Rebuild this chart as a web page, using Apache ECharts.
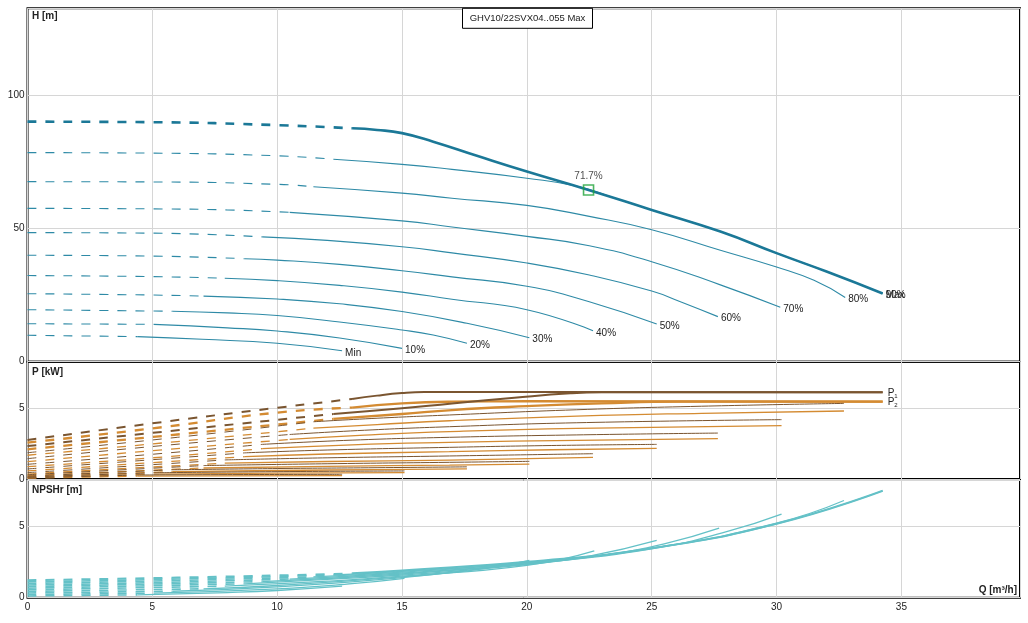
<!DOCTYPE html>
<html><head><meta charset="utf-8">
<script src="https://cdn.jsdelivr.net/npm/echarts@6/dist/echarts.min.js"></script>
<style>html,body{margin:0;padding:0;background:#fff}#c{width:1028px;height:623px}</style>
</head><body><div id="c"></div>
<script>
// ---------- DATA ----------
const curveNames = ['Max','90%','80%','70%','60%','50%','40%','30%','20%','10%','Min'];
const xTicks = [0,5,10,15,20,25,30,35];
const hTicks = [0,50,100];
const pTicks = [0,5];
const nTicks = [0,5];
const titleText = 'GHV10/22SVX04..055 Max';
const bepPoint = [22.47, 64.4];
const bepLabel = '71.7%';

// Head curves: dashed part (0 .. start) and solid part (start .. end)
const hDash = [
  [[0,90],[5,89.8],[10,88.7],[13,87.5]],
  [[0,78.4],[5,78.2],[10,77.2],[12.25,75.9]],
  [[0,67.5],[5,67.4],[10,66.5],[11.45,65.6]],
  [[0,57.5],[5,57.3],[8,56.9],[10.5,56.0]],
  [[0,48.4],[5,48.2],[9.4,46.8]],
  [[0,39.9],[5,39.6],[8.7,38.6]],
  [[0,32.3],[5,31.9],[7.9,31.3]],
  [[0,25.5],[5,25.0],[7.05,24.6]],
  [[0,19.5],[5,19.0],[5.8,18.9]],
  [[0,14.25],[5.05,14.0]],
  [[0,9.9],[4.4,9.4]]
];
const hSolid = [
  [[13,87.5],[14,86.9],[15,85.7],[16.25,82.5],[18,77.2],[20,71.3],[22.47,64.4],[25,56.9],[27.75,48.8],[30,40.7],[32,33.8],[34.25,25.6]],
  [[12.25,75.9],[15,74.0],[17,72.1],[20,68.8],[22.1,65.6],[23.5,61.4],[25,56.9],[27.75,48.8],[30,40.7],[32,33.8],[34.25,25.6]],
  [[11.45,65.6],[15,63.2],[17,61.3],[20,58.6],[22.5,54.5],[25,49.5],[27.75,41.8],[30,35.5],[31.5,30.5],[32.75,24.1]],
  [[10.5,56.0],[15,52.8],[17,50.5],[20,47.0],[22.5,43.5],[25,37.5],[27.75,28.8],[30.15,20.4]],
  [[9.4,46.8],[12,45.5],[15,43.1],[17,40.8],[20,37.0],[22.5,32.5],[25,26.5],[26.15,22.5],[27.65,16.9]],
  [[8.7,38.6],[10,38.1],[12.5,36.5],[15,34.1],[17,31.8],[20,28.3],[22.5,22.5],[25.2,14.1]],
  [[7.9,31.3],[10,30.4],[12.5,28.6],[15,26.1],[17,23.4],[20,19.5],[22.65,11.6]],
  [[7.05,24.6],[10,23.5],[12.5,21.7],[15,18.8],[17.6,14.4],[20.1,9.0]],
  [[5.8,18.9],[8,18.3],[10,17.3],[12.5,14.9],[15,11.9],[16.25,10.0],[17.6,6.9]],
  [[5.05,14.0],[8,12.7],[10,11.5],[12.5,8.9],[15,5.0]],
  [[4.4,9.4],[7,8.4],[10,6.9],[12.6,4.1]]
];

// Power P1 (shaft) curves
const p1Dash = [
  [[0,2.76],[5,3.94],[10,5.04],[13,5.66]],
  [[0,2.33],[6,3.45],[12.25,4.6]],
  [[0,1.86],[6,2.95],[11.45,4.05]],
  [[0,1.44],[5,2.3],[10.5,3.15]],
  [[0,1.04],[5,1.75],[9.4,2.45]],
  [[0,0.71],[4.5,1.3],[8.7,1.85]],
  [[0,0.45],[4,0.9],[7.9,1.35]],
  [[0,0.3],[7.05,0.95]],
  [[0,0.2],[5.8,0.65]],
  [[0,0.14],[5.05,0.44]],
  [[0,0.08],[4.4,0.28]]
];
const p1Solid = [
  [[13,5.66],[14,5.9],[15,6.08],[15.9,6.15],[20,6.15],[34.25,6.13]],
  [[12.25,4.6],[15,5.0],[17,5.35],[19.5,5.75],[21.75,6.06],[23,6.13],[34.25,6.13]],
  [[11.45,4.05],[14,4.3],[16.9,4.53],[22,4.9],[27,5.15],[32.7,5.35]],
  [[10.5,3.15],[13.5,3.45],[16.9,3.7],[22,3.98],[30.2,4.2]],
  [[9.4,2.45],[13,2.75],[16.9,2.95],[22,3.12],[27.65,3.25]],
  [[8.7,1.85],[12,2.05],[16.9,2.24],[21,2.37],[25.2,2.45]],
  [[7.9,1.35],[12,1.5],[16.9,1.63],[22.65,1.79]],
  [[7.05,0.95],[12,1.08],[16.9,1.18],[20.1,1.25]],
  [[5.8,0.65],[10,0.74],[14,0.8],[17.6,0.86]],
  [[5.05,0.44],[10,0.52],[15.1,0.57]],
  [[4.4,0.28],[8,0.31],[12.6,0.33]]
];
// Power P2 (hydraulic) curves
const p2Dash = [
  [[0,2.57],[5,3.58],[10,4.7],[13,5.05]],
  [[0,2.1],[6,3.15],[12.25,4.25]],
  [[0,1.68],[6,2.65],[11.45,3.6]],
  [[0,1.23],[5,2.0],[10.5,2.8]],
  [[0,0.87],[5,1.5],[9.4,2.15]],
  [[0,0.57],[4.5,1.1],[8.7,1.58]],
  [[0,0.35],[4,0.75],[7.9,1.12]],
  [[0,0.24],[7.05,0.78]],
  [[0,0.15],[5.8,0.52]],
  [[0,0.1],[5.05,0.34]],
  [[0,0.06],[4.4,0.2]]
];
const p2Solid = [
  [[13,5.05],[15,5.35],[17,5.47],[20,5.5],[34.25,5.47]],
  [[12.25,4.25],[15,4.6],[17,4.88],[20,5.15],[23,5.35],[26.2,5.47],[34.25,5.47]],
  [[11.45,3.6],[14,3.85],[16.9,4.12],[22,4.45],[27,4.65],[32.7,4.81]],
  [[10.5,2.8],[13.5,3.1],[16.9,3.35],[22,3.58],[30.2,3.77]],
  [[9.4,2.15],[13,2.42],[16.9,2.59],[22,2.74],[27.65,2.85]],
  [[8.7,1.58],[12,1.77],[16.9,1.93],[21,2.07],[25.2,2.17]],
  [[7.9,1.12],[12,1.24],[16.9,1.34],[22.65,1.53]],
  [[7.05,0.78],[12,0.9],[16.9,0.98],[20.1,1.05]],
  [[5.8,0.52],[10,0.6],[14,0.67],[17.6,0.72]],
  [[5.05,0.34],[10,0.41],[15.1,0.45]],
  [[4.4,0.2],[8,0.22],[12.6,0.24]]
];

// NPSHr curves
const nDash = [
  [[0,1.22],[6,1.4],[13,1.68]],
  [[0,1.1],[6,1.3],[12.25,1.58]],
  [[0,0.99],[6,1.2],[11.45,1.45]],
  [[0,0.88],[5,1.05],[10.5,1.3]],
  [[0,0.77],[5,0.95],[9.4,1.12]],
  [[0,0.66],[4.5,0.82],[8.7,0.97]],
  [[0,0.55],[4,0.68],[7.9,0.8]],
  [[0,0.44],[7.05,0.62]],
  [[0,0.33],[5.8,0.45]],
  [[0,0.22],[5.05,0.32]],
  [[0,0.12],[4.4,0.2]]
];
const nSolid = [
  [[13,1.7],[15,1.9],[20,2.5],[25,3.45],[30,5.15],[34.25,7.45]],
  [[12.25,1.58],[15,1.84],[20,2.45],[25,3.45],[30,5.15],[34.25,7.45]],
  [[11.45,1.45],[15,1.78],[20,2.42],[25,3.45],[30,5.2],[32.7,6.77]],
  [[10.5,1.3],[15,1.72],[20,2.38],[25,3.4],[28,4.6],[30.2,5.82]],
  [[9.4,1.12],[15,1.65],[20,2.35],[23,2.95],[25.5,3.75],[27.7,4.84]],
  [[8.7,0.97],[12,1.28],[15,1.58],[20,2.3],[22.5,2.9],[25.2,4.0]],
  [[7.9,0.8],[12,1.15],[15,1.5],[20,2.25],[22.7,3.26]],
  [[7.05,0.62],[10,0.85],[15,1.45],[18,1.95],[20.1,2.6]],
  [[5.8,0.45],[10,0.75],[15,1.4],[17.6,1.9]],
  [[5.05,0.32],[10,0.62],[13,0.98],[15.1,1.35]],
  [[4.4,0.2],[8,0.36],[10,0.5],[12.6,0.8]]
];

// ---------- CHART ----------
const FONT = 'Liberation Sans, Arial, sans-serif';
const L = 27.5, W = 992.5;
const grids = [
  {left: L, top: 8.3, width: W, height: 353.4},
  {left: L, top: 361.7, width: W, height: 117.3},
  {left: L, top: 480, width: W, height: 117.7}
].map(g => Object.assign(g, {show: true, borderColor: '#000', borderWidth: 2, backgroundColor: 'transparent'}));

const gridLine = {show: true, lineStyle: {color: '#d6d6d6', width: 1}};
const xAxes = [0,1,2].map(i => ({
  type: 'value', gridIndex: i, min: xTicks[0], max: 39.75, interval: xTicks[1]-xTicks[0],
  axisLine: {show: false}, axisTick: {show: false}, splitLine: gridLine,
  axisLabel: {show: i === 2, showMaxLabel: false, fontSize: 10, color: '#222', fontFamily: FONT, margin: 5}
}));
const yDefs = [
  {max: 132.5, ticks: hTicks},
  {max: 8.3, ticks: pTicks},
  {max: 8.2, ticks: nTicks}
];
const yAxes = yDefs.map((d, i) => ({
  type: 'value', gridIndex: i, min: d.ticks[0], max: d.max, interval: d.ticks[1]-d.ticks[0],
  axisLine: {show: false}, axisTick: {show: false}, splitLine: gridLine,
  axisLabel: {showMaxLabel: false, fontSize: 10, color: '#222', fontFamily: FONT, margin: 3}
}));

function line(gi, data, color, width, dashed, z, extra) {
  return Object.assign({
    type: 'line', xAxisIndex: gi, yAxisIndex: gi, data: data,
    showSymbol: false, symbol: 'none', smooth: 0.5,
    silent: true, animation: false, z: z,
    lineStyle: {color: color, width: width, type: dashed ? [9, 9] : 'solid', cap: 'butt'}
  }, extra || {});
}

const H_MAX = '#1b7897', H_THIN = '#2e8aa6';
const P1_C = '#7a5530', P2_C = '#d48b32';
const N_C = '#64c1c7';
const series = [];
const sub = (n) => ({
  show: true, formatter: '{a|P}{b|' + n + '}', distance: 5, offset: [0, 1],
  rich: {a: {fontSize: 10, color: '#222', fontFamily: FONT}, b: {fontSize: 6, color: '#222', fontFamily: FONT, padding: [6, 0, 0, 0]}}
});

curveNames.forEach((name, i) => {
  const isMax = i === 0;
  // NPSH
  series.push(line(2, nDash[i], N_C, isMax ? 2 : 1.6, true, 2));
  series.push(line(2, nSolid[i], N_C, isMax ? 2 : 1.3, false, 2));
  // Power
  const pw = i <= 1 ? 2 : 1;
  series.push(line(1, p2Dash[i], P2_C, pw + 0.3, true, 2));
  series.push(line(1, p2Solid[i], P2_C, pw + 0.3, false, 2, isMax ? {endLabel: sub(2)} : null));
  series.push(line(1, p1Dash[i], P1_C, pw, true, 3));
  series.push(line(1, p1Solid[i], P1_C, pw, false, 3, isMax ? {endLabel: sub(1)} : null));
  // Head
  series.push(line(0, hDash[i], isMax ? H_MAX : H_THIN, isMax ? 2.6 : 1.1, true, isMax ? 5 : 3));
  series.push(line(0, hSolid[i], isMax ? H_MAX : H_THIN, isMax ? 2.6 : 1.1, false, isMax ? 5 : 3, {
    endLabel: {show: true, formatter: name, fontSize: 10, color: '#222', fontFamily: FONT, distance: 3, offset: [0, 2]}
  }));
});

series.push({
  type: 'scatter', xAxisIndex: 0, yAxisIndex: 0, data: [bepPoint], symbol: 'rect', symbolSize: 10,
  silent: true, animation: false, z: 10,
  itemStyle: {color: 'rgba(255,255,255,0)', borderColor: '#1fa23a', borderWidth: 1.6},
  label: {show: true, position: 'top', distance: 3, formatter: bepLabel, fontSize: 10, color: '#222', fontFamily: FONT}
});

const graphic = [
  {type: 'text', left: 32, top: 11, style: {text: 'H [m]', font: 'bold 10px ' + FONT, fill: '#222'}},
  {type: 'text', left: 32, top: 367, style: {text: 'P [kW]', font: 'bold 10px ' + FONT, fill: '#222'}},
  {type: 'text', left: 32, top: 485, style: {text: 'NPSHr [m]', font: 'bold 10px ' + FONT, fill: '#222'}},
  {type: 'text', right: 11, top: 585, style: {text: 'Q [m³/h]', font: 'bold 10px ' + FONT, fill: '#222'}},
  {type: 'rect', shape: {x: 462.5, y: 8.3, width: 130, height: 20}, style: {fill: '#fff', stroke: '#000', lineWidth: 1}, z: 100},
  {type: 'text', x: 527.5, y: 18.5, style: {text: titleText, font: '9.5px ' + FONT, fill: '#222', textAlign: 'center', textVerticalAlign: 'middle'}, z: 101}
];

const chart = echarts.init(document.getElementById('c'), null, {renderer: 'canvas'});
chart.setOption({
  animation: false,
  backgroundColor: '#fff',
  textStyle: {fontFamily: FONT},
  grid: grids, xAxis: xAxes, yAxis: yAxes, series: series, graphic: graphic
});
</script></body></html>
